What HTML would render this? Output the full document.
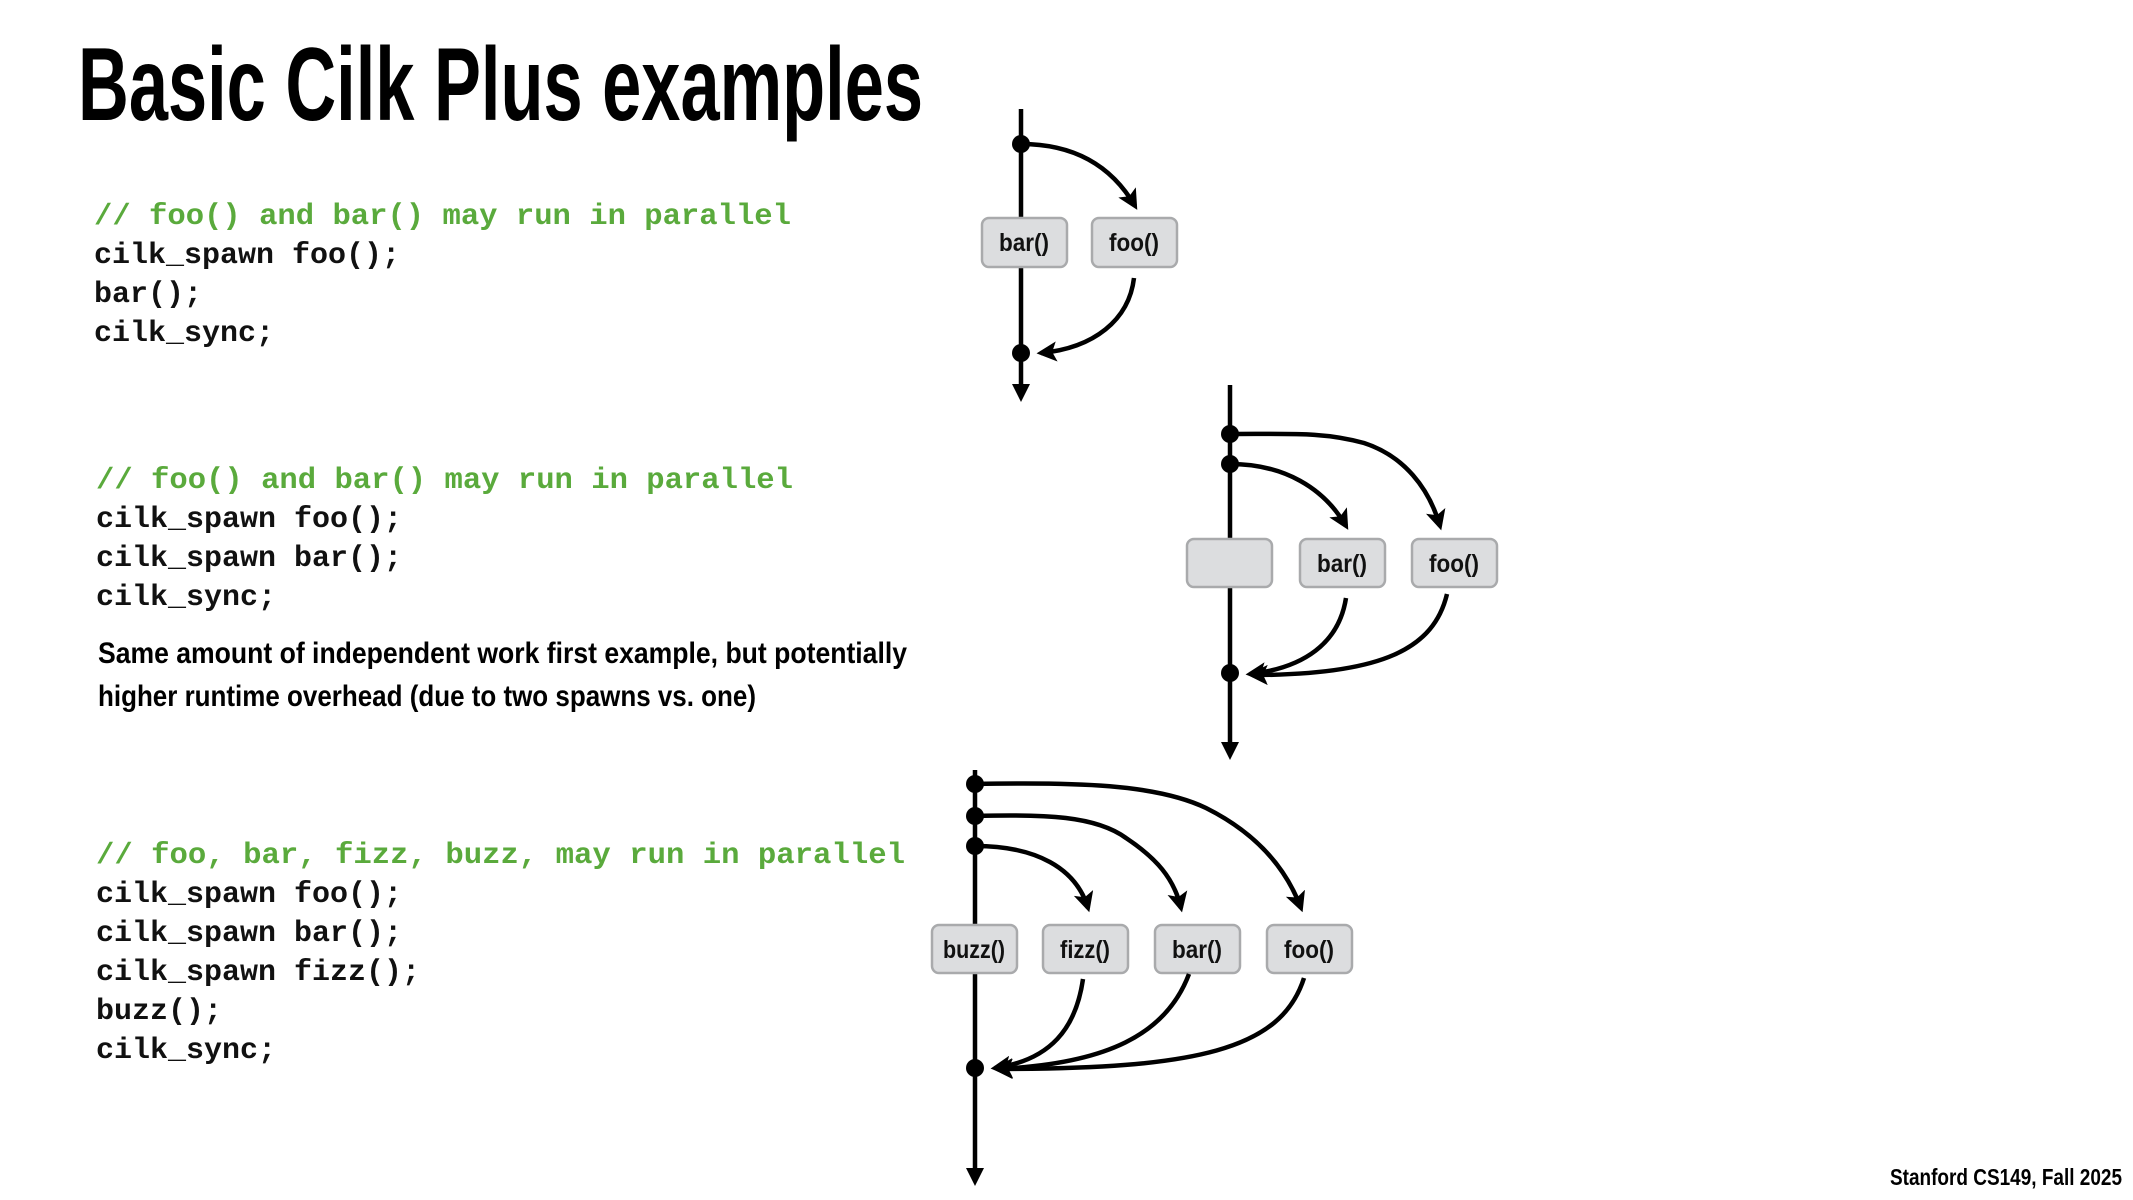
<!DOCTYPE html>
<html><head><meta charset="utf-8"><style>
html,body{margin:0;padding:0;background:#fff;}
svg{display:block;}
.code{font-family:"Liberation Mono",monospace;font-size:30px;fill:#111;font-weight:bold;}
.cm{fill:#5aaa3c;}
.lbl{font-family:"Liberation Sans",sans-serif;font-weight:bold;font-size:25px;fill:#111;}
.box{fill:#dcdddf;stroke:#a9aaac;stroke-width:2.5;}
.ln{stroke:#000;stroke-width:4.5;fill:none;}
</style></head><body>
<svg width="2133" height="1200" viewBox="0 0 2133 1200" xmlns="http://www.w3.org/2000/svg">
<defs>
<marker id="ah" markerWidth="4.5" markerHeight="4.5" refX="3.5" refY="2.25" orient="auto" markerUnits="strokeWidth">
<path d="M0,0 L4.5,2.25 L0,4.5 L1,2.25 Z" fill="#000"/></marker>
</defs>
<text x="78" y="120" font-family="Liberation Sans,sans-serif" font-weight="bold" font-size="104" textLength="845" lengthAdjust="spacingAndGlyphs" fill="#000">Basic Cilk Plus examples</text>

<g class="code">
<text x="94" y="224" class="cm" textLength="697" lengthAdjust="spacingAndGlyphs">// foo() and bar() may run in parallel</text>
<text x="94" y="263">cilk_spawn foo();</text>
<text x="94" y="302">bar();</text>
<text x="94" y="341">cilk_sync;</text>

<text x="96" y="488" class="cm" textLength="697" lengthAdjust="spacingAndGlyphs">// foo() and bar() may run in parallel</text>
<text x="96" y="527">cilk_spawn foo();</text>
<text x="96" y="566">cilk_spawn bar();</text>
<text x="96" y="605">cilk_sync;</text>

<text x="96" y="863" class="cm" textLength="809" lengthAdjust="spacingAndGlyphs">// foo, bar, fizz, buzz, may run in parallel</text>
<text x="96" y="902">cilk_spawn foo();</text>
<text x="96" y="941">cilk_spawn bar();</text>
<text x="96" y="980">cilk_spawn fizz();</text>
<text x="96" y="1019">buzz();</text>
<text x="96" y="1058">cilk_sync;</text>
</g>
<text x="98" y="663" font-family="Liberation Sans,sans-serif" font-weight="bold" font-size="30" textLength="809" lengthAdjust="spacingAndGlyphs">Same amount of independent work first example, but potentially</text>
<text x="98" y="706" font-family="Liberation Sans,sans-serif" font-weight="bold" font-size="30" textLength="658" lengthAdjust="spacingAndGlyphs">higher runtime overhead (due to two spawns vs. one)</text>

<text x="1890" y="1185" font-family="Liberation Sans,sans-serif" font-weight="bold" font-size="23" textLength="232" lengthAdjust="spacingAndGlyphs">Stanford CS149, Fall 2025</text>

<!-- Diagram 1 -->
<g transform="translate(-1,0)">
<line class="ln" x1="1022" y1="109" x2="1022" y2="388"/>
<path d="M1013,384 L1031,384 L1022,402 Z" fill="#000"/>
<rect class="box" x="983" y="218" width="85" height="49" rx="7"/>
<text class="lbl" x="1025" y="251" text-anchor="middle" textLength="50" lengthAdjust="spacingAndGlyphs">bar()</text>
<rect class="box" x="1093" y="218" width="85" height="49" rx="7"/>
<text class="lbl" x="1135" y="251" text-anchor="middle" textLength="50" lengthAdjust="spacingAndGlyphs">foo()</text>
<circle cx="1022" cy="144" r="9"/>
<circle cx="1022" cy="353" r="9"/>
<path class="ln" d="M1022,144 C1080,144 1115,170 1136,206" marker-end="url(#ah)"/>
<path class="ln" d="M1135,278 C1130,320 1095,348 1042,353" marker-end="url(#ah)"/>
</g>

<!-- Diagram 2 -->
<g transform="translate(-6,-2)">
<line class="ln" x1="1236" y1="387" x2="1236" y2="748"/>
<path d="M1227,744 L1245,744 L1236,762 Z" fill="#000"/>
<rect class="box" x="1193" y="541" width="85" height="48" rx="7"/>
<rect class="box" x="1306" y="541" width="85" height="48" rx="7"/>
<text class="lbl" x="1348" y="574" text-anchor="middle" textLength="50" lengthAdjust="spacingAndGlyphs">bar()</text>
<rect class="box" x="1418" y="541" width="85" height="48" rx="7"/>
<text class="lbl" x="1460" y="574" text-anchor="middle" textLength="50" lengthAdjust="spacingAndGlyphs">foo()</text>
<circle cx="1236" cy="436" r="9"/>
<circle cx="1236" cy="466" r="9"/>
<circle cx="1236" cy="675" r="9"/>
<path class="ln" d="M1236,436 C1300,436 1330,434 1370,445 C1410,458 1435,490 1446,528" marker-end="url(#ah)"/>
<path class="ln" d="M1236,466 C1290,466 1330,490 1352,528" marker-end="url(#ah)"/>
<path class="ln" d="M1352,600 C1345,645 1310,670 1256,676" marker-end="url(#ah)"/>
<path class="ln" d="M1453,596 C1440,650 1390,677 1258,677" marker-end="url(#ah)"/>
</g>

<!-- Diagram 3 -->
<g transform="translate(-4,-2)">
<line class="ln" x1="979" y1="772" x2="979" y2="1174"/>
<path d="M970,1170 L988,1170 L979,1188 Z" fill="#000"/>
<rect class="box" x="936" y="927" width="85" height="48" rx="7"/>
<text class="lbl" x="978" y="960" text-anchor="middle" textLength="62" lengthAdjust="spacingAndGlyphs">buzz()</text>
<rect class="box" x="1047" y="927" width="85" height="48" rx="7"/>
<text class="lbl" x="1089" y="960" text-anchor="middle" textLength="50" lengthAdjust="spacingAndGlyphs">fizz()</text>
<rect class="box" x="1159" y="927" width="85" height="48" rx="7"/>
<text class="lbl" x="1201" y="960" text-anchor="middle" textLength="50" lengthAdjust="spacingAndGlyphs">bar()</text>
<rect class="box" x="1271" y="927" width="85" height="48" rx="7"/>
<text class="lbl" x="1313" y="960" text-anchor="middle" textLength="50" lengthAdjust="spacingAndGlyphs">foo()</text>
<circle cx="979" cy="786" r="9"/>
<circle cx="979" cy="818" r="9"/>
<circle cx="979" cy="848" r="9"/>
<circle cx="979" cy="1070" r="9"/>
<path class="ln" d="M979,786 C1080,784 1160,786 1210,810 C1260,835 1290,870 1305,910" marker-end="url(#ah)"/>
<path class="ln" d="M979,818 C1050,816 1100,818 1130,840 C1160,860 1178,880 1185,910" marker-end="url(#ah)"/>
<path class="ln" d="M979,848 C1040,848 1080,870 1092,910" marker-end="url(#ah)"/>
<path class="ln" d="M1087,981 C1080,1030 1055,1062 999,1070" marker-end="url(#ah)"/>
<path class="ln" d="M1193,976 C1170,1037 1110,1066 1001,1071" marker-end="url(#ah)"/>
<path class="ln" d="M1308,980 C1285,1052 1200,1071 1001,1071" marker-end="url(#ah)"/>
</g>
</svg>
</body></html>
